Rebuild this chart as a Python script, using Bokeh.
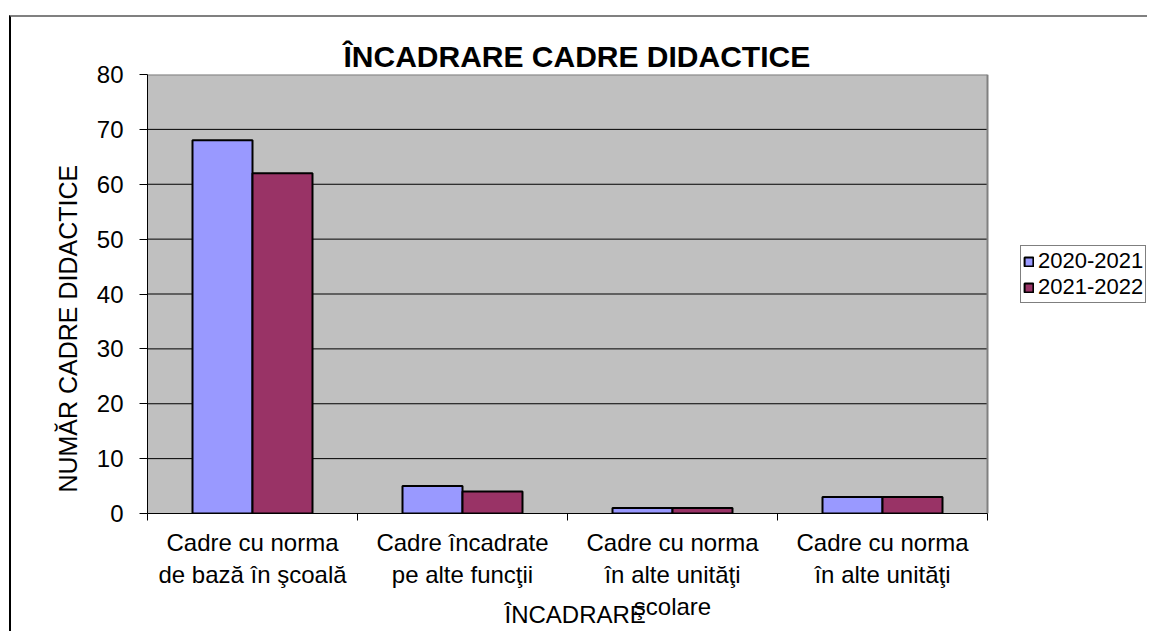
from bokeh.plotting import figure
from bokeh.models import (ColumnDataSource, Range1d, LinearAxis, FixedTicker,
                          Legend, LegendItem)
from bokeh.embed import file_html
from bokeh.resources import INLINE

categories = ["Cadre cu norma\nde bază în şcoală",
              "Cadre încadrate\npe alte funcţii",
              "Cadre cu norma\nîn alte unităţi\nşcolare",
              "Cadre cu norma\nîn alte unităţi"]
series_names = ["2020-2021", "2021-2022"]
values_2020_2021 = [68, 5, 1, 3]
values_2021_2022 = [62, 4, 1, 3]
series_colors = ["#9999FF", "#993366"]
y_ticks = [0, 10, 20, 30, 40, 50, 60, 70, 80]

title_text = "ÎNCADRARE CADRE DIDACTICE"
x_title = "ÎNCADRARE"
y_title = "NUMĂR CADRE DIDACTICE"

FONT = "Liberation Sans"
NBSP = "\u00a0"
W, H = 1138, 616
n = len(categories)
bar_w = 0.2857
y_max = y_ticks[-1]
# plot area spans 840 px of a 1002 px wide frame; the rest holds the legend
x_end = n * 1002 / 840

p = figure(width=W, height=H, output_backend="svg", toolbar_location=None,
           x_range=Range1d(0, x_end), y_range=Range1d(0, y_max),
           min_border_left=136, min_border_right=0,
           min_border_top=57, min_border_bottom=120,
           x_axis_type=None, y_axis_type=None)
p.styles = {"margin-left": "9px", "margin-top": "15px",
            "border-left": "2px solid #000000",
            "border-top": "2px solid #808080"}
p.background_fill_color = "white"
p.border_fill_color = "white"
p.outline_line_color = None

p.title.text = title_text
p.title.align = "left"
p.title.offset = 196
p.title.standoff = 3
p.title.text_font = FONT
p.title.text_font_size = "30px"
p.title.text_font_style = "bold"
p.title.text_color = "black"

# grey plot area, its gridlines and border
p.quad(left=[0], right=[n], bottom=[0], top=[y_max], fill_color="#C0C0C0", line_color=None)
grid_y = y_ticks[1:-1]
p.segment(x0=[0] * len(grid_y), x1=[n] * len(grid_y), y0=grid_y, y1=grid_y,
          line_color="black", line_width=1)
p.segment(x0=[0, n], x1=[n, n], y0=[y_max, 0], y1=[y_max, y_max],
          line_color="#808080", line_width=2)

centers = [i + 0.5 for i in range(n)]
src1 = ColumnDataSource(dict(x=[c - bar_w / 2 for c in centers], top=values_2020_2021))
src2 = ColumnDataSource(dict(x=[c + bar_w / 2 for c in centers], top=values_2021_2022))
r1 = p.vbar(x="x", top="top", width=bar_w, bottom=0, source=src1,
            fill_color=series_colors[0], line_color="black", line_width=2)
r2 = p.vbar(x="x", top="top", width=bar_w, bottom=0, source=src2,
            fill_color=series_colors[1], line_color="black", line_width=2)

# x axis: category labels at centres, tick marks at the category boundaries
xaxis = LinearAxis(ticker=FixedTicker(ticks=centers, minor_ticks=list(range(n + 1))),
                   bounds=(0, n))
xaxis.major_label_overrides = {c: lab for c, lab in zip(centers, categories)}
xaxis.major_tick_line_color = None
xaxis.major_tick_out = 7
xaxis.major_tick_in = 0
xaxis.minor_tick_out = 7
xaxis.minor_tick_in = 0
xaxis.minor_tick_line_color = "black"
xaxis.axis_line_color = "black"
xaxis.major_label_text_font = FONT
xaxis.major_label_text_font_size = "24px"
xaxis.major_label_text_color = "black"
xaxis.major_label_standoff = 8
xaxis.axis_label = x_title + NBSP * 22
xaxis.axis_label_text_font = FONT
xaxis.axis_label_text_font_size = "24px"
xaxis.axis_label_text_font_style = "normal"
xaxis.axis_label_text_color = "black"
xaxis.axis_label_standoff = -22
p.add_layout(xaxis, "below")

yaxis = LinearAxis(ticker=FixedTicker(ticks=y_ticks))
yaxis.major_tick_out = 8
yaxis.major_tick_in = 0
yaxis.minor_tick_line_color = None
yaxis.axis_line_color = "black"
yaxis.major_tick_line_color = "black"
yaxis.major_label_text_font = FONT
yaxis.major_label_text_font_size = "24px"
yaxis.major_label_text_color = "black"
yaxis.major_label_standoff = 16
yaxis.axis_label = y_title + NBSP * 10
yaxis.axis_label_text_font = FONT
yaxis.axis_label_text_font_size = "25px"
yaxis.axis_label_text_font_style = "normal"
yaxis.axis_label_text_color = "black"
yaxis.axis_label_standoff = 12
p.add_layout(yaxis, "left")

p.xgrid.visible = False
p.ygrid.visible = False

legend = Legend(items=[LegendItem(label=series_names[0], renderers=[r1]),
                       LegendItem(label=series_names[1], renderers=[r2])],
                location=(873, 210), orientation="vertical")
legend.padding = 2
legend.spacing = 0
legend.margin = 0
legend.glyph_width = 11
legend.glyph_height = 11
legend.label_height = 25
legend.label_standoff = 4
legend.label_text_font = FONT
legend.label_text_font_size = "22px"
legend.label_text_color = "black"
legend.border_line_color = "black"
legend.border_line_width = 1
legend.background_fill_color = "white"
legend.background_fill_alpha = 1
p.add_layout(legend, "center")

open("out.html", "w").write(file_html(p, INLINE))
